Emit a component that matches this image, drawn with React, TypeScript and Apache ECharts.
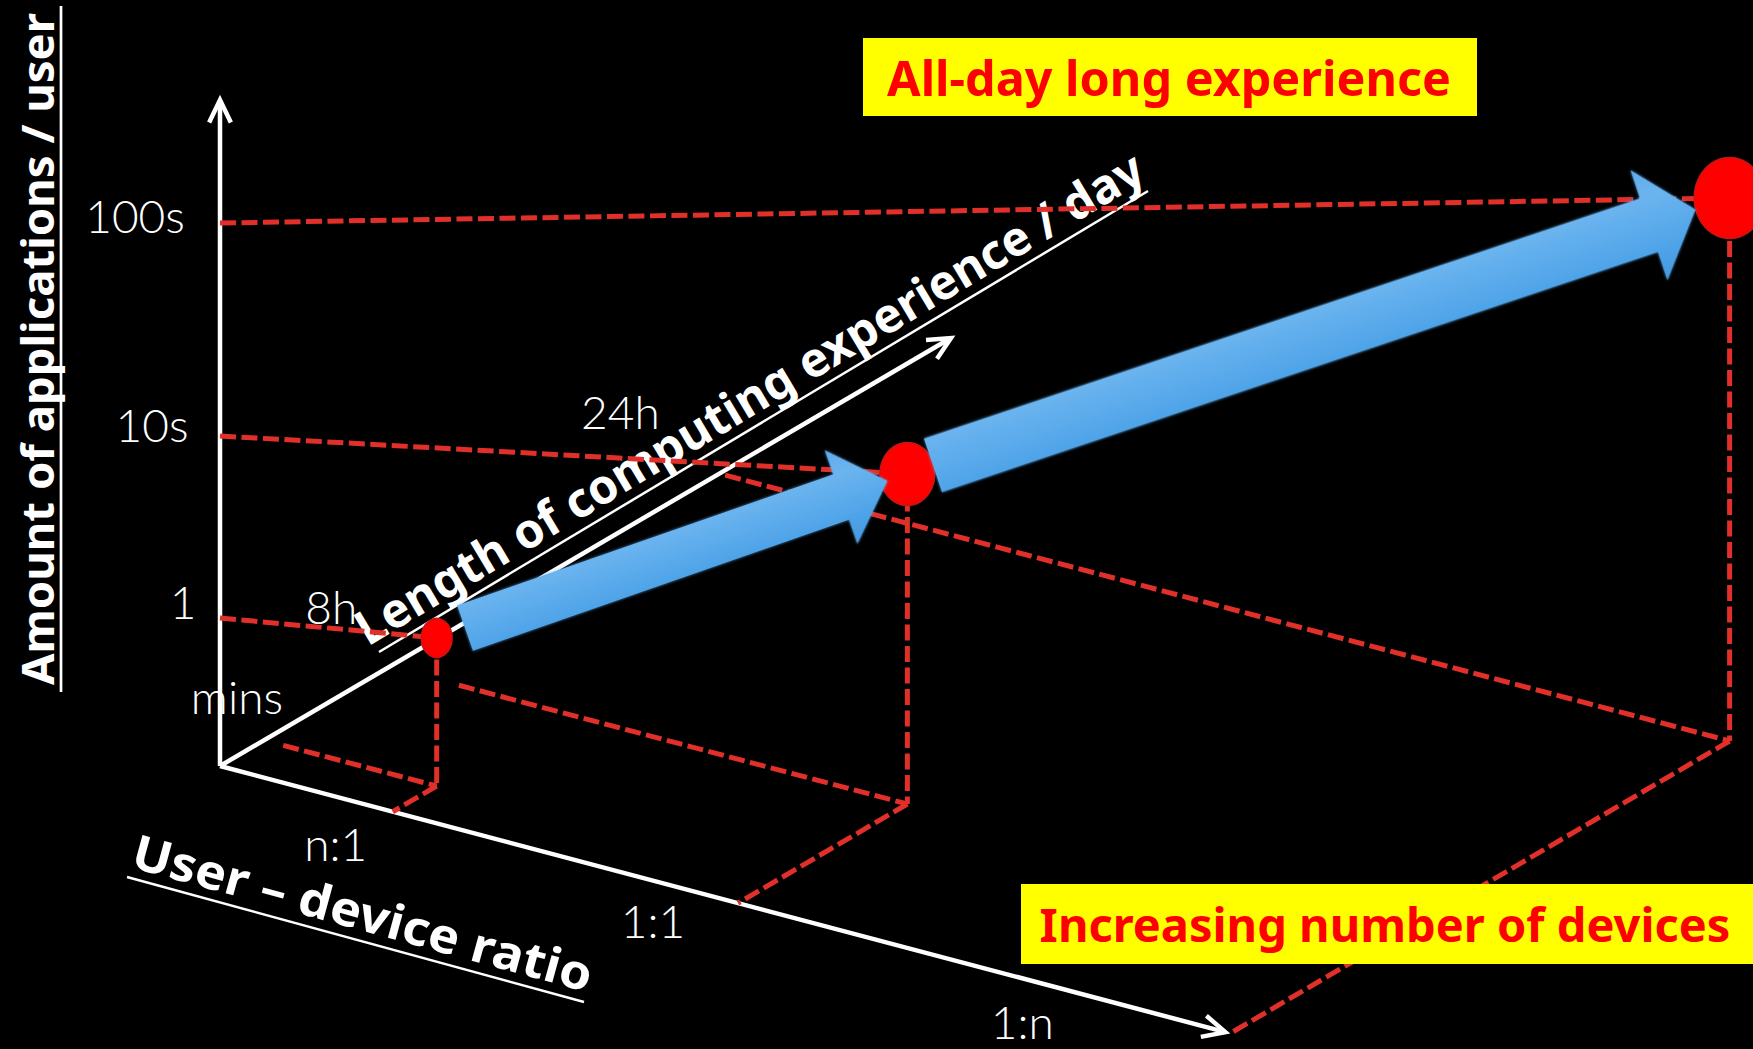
import React, { useEffect, useRef } from 'react';
import * as echarts from 'echarts';

// ---- Axis ticks -----------------------------------------------------------
const ratioTicks = ['n:1', '1:1', '1:n'];
const timeTicks = ['mins', '8h', '24h'];
const appTicks = ['1', '10s', '100s'];

// ---- Evolution stages (user–device ratio, daily use, applications/user) ----
const stageRatio = ['n:1', '1:1', '1:n'];
const stageTime = ['mins', '8h', '24h'];
const stageApps = ['1', '10s', '100s'];

// ---- Texts -----------------------------------------------------------------
const appsTitle = 'Amount of applications / user';
const timeTitle = 'Length of computing experience / day';
const ratioTitle = 'User \u2013 device ratio';
const topCallout = 'All-day long experience';
const bottomCallout = 'Increasing number of devices';

// ---- Layout ----------------------------------------------------------------
const W = 1753;
const H = 1049;
const unit = (v: number[]) => {
  const l = Math.hypot(v[0], v[1]);
  return [v[0] / l, v[1] / l];
};
// oblique projection of the three axes
const ORIGIN = [220, 766];
const RATIO_DIR = unit([1005, 266]);
const TIME_DIR = unit([731, -428]);
const RATIO_LEN = 1040;
const TIME_LEN = 847;
const APPS_LEN = 666;
// where each tick sits along its axis (px)
const RATIO_TICK_AT = [178.7, 535.9, 1045];
const TIME_TICK_AT = [50.9, 196.2, 578.7];
const APPS_TICK_AT = [148, 330, 543];
// tick label offsets from their axis point
const RATIO_LABEL_OFF = [[-57, 32], [-85, 17], [-208, -12]];
const TIME_LABEL_OFF = [[-27, -44], [-58, -60], [-99, -62]];
const APPS_LABEL_OFF = [[-37, -17], [-68, -12], [-85, -8]];
// floor guides toward the time axis start a little away from it
const TIME_GUIDE_GAP = [20, 72, 6];
const DOT_SIZE = [[31, 39], [55, 63], [71, 81]];
const ARROWS = [
  { from: 0, to: 1, startGap: 30, endGap: 21, shaft: 48, head: 99, headLen: 49 },
  { from: 1, to: 2, startGap: 27, endGap: 36, shaft: 56.5, head: 116, headLen: 49 },
];

const DASH_COLOR = '#E1302A';
const LIGHT_FONT = 'Lato, "Noto Sans", sans-serif';
const BOLD_FONT = '"Noto Sans", "DejaVu Sans", sans-serif';

const project = (r: number, t: number, h: number) => [
  ORIGIN[0] + r * RATIO_DIR[0] + t * TIME_DIR[0],
  ORIGIN[1] + r * RATIO_DIR[1] + t * TIME_DIR[1] - h,
];

const stages = stageRatio.map((r, i) => ({
  a: RATIO_TICK_AT[ratioTicks.indexOf(r)],
  b: TIME_TICK_AT[timeTicks.indexOf(stageTime[i])],
  h: APPS_TICK_AT[appTicks.indexOf(stageApps[i])],
}));

const seg = (p: number[], q: number[]) => [p[0], p[1], q[0], q[1]];

export default function App() {
  const ref = useRef<HTMLDivElement>(null);

  useEffect(() => {
    if (!ref.current) return;
    const chart = echarts.init(ref.current, undefined, { renderer: 'svg' });

    const axesData = [
      seg(project(0, 0, 0), project(RATIO_LEN, 0, 0)),
      seg(project(0, 0, 0), project(0, TIME_LEN, 0)),
      seg(project(0, 0, 0), project(0, 0, APPS_LEN)),
    ];

    const guideData: number[][] = [];
    stages.forEach((s, i) => {
      const top = project(s.a, s.b, s.h);
      const floor = project(s.a, s.b, 0);
      guideData.push(seg(project(0, 0, s.h), top));
      guideData.push(seg(top, floor));
      guideData.push(seg(floor, project(s.a, 0, 0)));
      guideData.push(seg(project(TIME_GUIDE_GAP[i], s.b, 0), floor));
    });

    const labelTexts: string[] = [];
    const labelData: number[][] = [];
    ratioTicks.forEach((t, i) => {
      const p = project(RATIO_TICK_AT[i], 0, 0);
      labelTexts.push(t);
      labelData.push([p[0] + RATIO_LABEL_OFF[i][0], p[1] + RATIO_LABEL_OFF[i][1]]);
    });
    timeTicks.forEach((t, i) => {
      const p = project(0, TIME_TICK_AT[i], 0);
      labelTexts.push(t);
      labelData.push([p[0] + TIME_LABEL_OFF[i][0], p[1] + TIME_LABEL_OFF[i][1]]);
    });
    appTicks.forEach((t, i) => {
      const p = project(0, 0, APPS_TICK_AT[i]);
      labelTexts.push(t);
      labelData.push([p[0] + APPS_LABEL_OFF[i][0], p[1] + APPS_LABEL_OFF[i][1]]);
    });

    const dotData = stages.map((s) => project(s.a, s.b, s.h));

    const arrowData = ARROWS.map((ar) => {
      const p = dotData[ar.from];
      const q = dotData[ar.to];
      const d = unit([q[0] - p[0], q[1] - p[1]]);
      return [
        p[0] + d[0] * ar.startGap, p[1] + d[1] * ar.startGap,
        q[0] - d[0] * ar.endGap, q[1] - d[1] * ar.endGap,
      ];
    });

    const segCoords = (api: any) => {
      const p = api.coord([api.value(0), api.value(1)]);
      const q = api.coord([api.value(2), api.value(3)]);
      return [p, q];
    };

    const option: any = {
      animation: false,
      backgroundColor: '#000000',
      grid: { left: 0, right: 0, top: 0, bottom: 0 },
      xAxis: { type: 'value', min: 0, max: W, show: false },
      yAxis: { type: 'value', min: 0, max: H, inverse: true, show: false },
      series: [
        {
          name: 'axes',
          type: 'custom',
          z: 1,
          data: axesData,
          renderItem: (params: any, api: any) => {
            const [p, q] = segCoords(api);
            const ang = Math.atan2(q[1] - p[1], q[0] - p[0]);
            const bl = 25;
            const spread = 0.45;
            const b1 = [q[0] - bl * Math.cos(ang - spread), q[1] - bl * Math.sin(ang - spread)];
            const b2 = [q[0] - bl * Math.cos(ang + spread), q[1] - bl * Math.sin(ang + spread)];
            return {
              type: 'group',
              children: [
                {
                  type: 'line',
                  shape: { x1: p[0], y1: p[1], x2: q[0], y2: q[1] },
                  style: { stroke: '#ffffff', lineWidth: 4.5 },
                },
                {
                  type: 'polyline',
                  shape: { points: [b1, q, b2] },
                  style: { stroke: '#ffffff', lineWidth: 4.5, fill: 'none', lineJoin: 'miter' },
                },
              ],
            };
          },
        },
        {
          name: 'tickLabels',
          type: 'custom',
          z: 2,
          data: labelData,
          renderItem: (params: any, api: any) => {
            const p = api.coord([api.value(0), api.value(1)]);
            return {
              type: 'text',
              x: p[0],
              y: p[1],
              style: {
                text: labelTexts[params.dataIndex],
                fill: '#ffffff',
                fontSize: 46,
                fontWeight: 300,
                fontFamily: LIGHT_FONT,
                align: 'center',
                verticalAlign: 'middle',
              },
            };
          },
        },
        {
          name: 'guides',
          type: 'custom',
          z: 3,
          data: guideData,
          renderItem: (params: any, api: any) => {
            const [p, q] = segCoords(api);
            return {
              type: 'line',
              shape: { x1: p[0], y1: p[1], x2: q[0], y2: q[1] },
              style: { stroke: DASH_COLOR, lineWidth: 5, lineDash: [16, 5.5], lineCap: 'butt' },
            };
          },
        },
        {
          name: 'stages',
          type: 'scatter',
          z: 4,
          data: dotData,
          symbol: 'circle',
          symbolSize: (_v: any, params: any) => DOT_SIZE[params.dataIndex],
          itemStyle: {
            color: '#FF0000',
            borderColor: '#C41612',
            borderWidth: 1.5,
            opacity: 1,
          },
          emphasis: { disabled: true },
        },
        {
          name: 'arrows',
          type: 'custom',
          z: 5,
          data: arrowData,
          renderItem: (params: any, api: any) => {
            const [p, q] = segCoords(api);
            const ar = ARROWS[params.dataIndex];
            const L = Math.hypot(q[0] - p[0], q[1] - p[1]);
            const ang = Math.atan2(q[1] - p[1], q[0] - p[0]);
            const s = ar.shaft / 2;
            const hw = ar.head / 2;
            const hx = L - ar.headLen;
            const so = 0.5 - s / ar.head;
            const se = 0.5 + s / ar.head;
            return {
              type: 'group',
              x: p[0],
              y: p[1],
              rotation: -ang,
              children: [
                {
                  type: 'polygon',
                  shape: {
                    points: [[0, -s], [hx, -s], [hx, -hw], [L, 0], [hx, hw], [hx, s], [0, s]],
                  },
                  style: {
                    fill: new echarts.graphic.LinearGradient(0, 0, 0, 1, [
                      { offset: 0, color: '#60ACEC' },
                      { offset: so, color: '#6BB4EF' },
                      { offset: se, color: '#4EA3E8' },
                      { offset: 1, color: '#4799E0' },
                    ]),
                    shadowBlur: 3,
                    shadowColor: 'rgba(90,170,240,0.8)',
                  },
                },
              ],
            };
          },
        },
      ],
      graphic: [
        {
          type: 'line',
          z: 2,
          shape: { x1: 61, y1: 6, x2: 61, y2: 692 },
          style: { stroke: '#ffffff', lineWidth: 2.7 },
        },
        {
          type: 'text',
          z: 2,
          x: 36,
          y: 349,
          rotation: Math.PI / 2,
          style: {
            text: appsTitle,
            fill: '#ffffff',
            fontSize: 45.5,
            fontWeight: 'bold',
            fontFamily: BOLD_FONT,
            align: 'center',
            verticalAlign: 'middle',
          },
        },
        {
          type: 'line',
          z: 2,
          shape: { x1: 379, y1: 652, x2: 1148, y2: 191 },
          style: { stroke: '#ffffff', lineWidth: 2.5 },
        },
        {
          type: 'text',
          z: 2,
          x: 748.5,
          y: 397,
          rotation: (30.96 * Math.PI) / 180,
          style: {
            text: timeTitle,
            fill: '#ffffff',
            fontSize: 48,
            fontWeight: 'bold',
            fontFamily: BOLD_FONT,
            align: 'center',
            verticalAlign: 'middle',
          },
        },
        {
          type: 'line',
          z: 2,
          shape: { x1: 127, y1: 877, x2: 584, y2: 1002 },
          style: { stroke: '#ffffff', lineWidth: 2.5 },
        },
        {
          type: 'text',
          z: 2,
          x: 363,
          y: 912,
          rotation: (-15.3 * Math.PI) / 180,
          scaleX: 1.08,
          style: {
            text: ratioTitle,
            fill: '#ffffff',
            fontSize: 48,
            fontWeight: 'bold',
            fontFamily: BOLD_FONT,
            align: 'center',
            verticalAlign: 'middle',
          },
        },
        {
          type: 'rect',
          z: 10,
          shape: { x: 863, y: 38, width: 614, height: 78 },
          style: { fill: '#FFFF00' },
        },
        {
          type: 'text',
          z: 11,
          x: 1169,
          y: 77,
          style: {
            text: topCallout,
            fill: '#FF0000',
            fontSize: 48.5,
            fontWeight: 'bold',
            fontFamily: BOLD_FONT,
            align: 'center',
            verticalAlign: 'middle',
          },
        },
        {
          type: 'rect',
          z: 10,
          shape: { x: 1021, y: 884, width: 732, height: 80 },
          style: { fill: '#FFFF00' },
        },
        {
          type: 'text',
          z: 11,
          x: 1385,
          y: 923.5,
          style: {
            text: bottomCallout,
            fill: '#FF0000',
            fontSize: 47,
            fontWeight: 'bold',
            fontFamily: BOLD_FONT,
            align: 'center',
            verticalAlign: 'middle',
          },
        },
      ],
    };

    chart.setOption(option);
    return () => chart.dispose();
  }, []);

  return (
    <div
      ref={ref}
      style={{ position: 'fixed', left: 0, top: 0, width: W, height: H, background: '#000' }}
    />
  );
}
